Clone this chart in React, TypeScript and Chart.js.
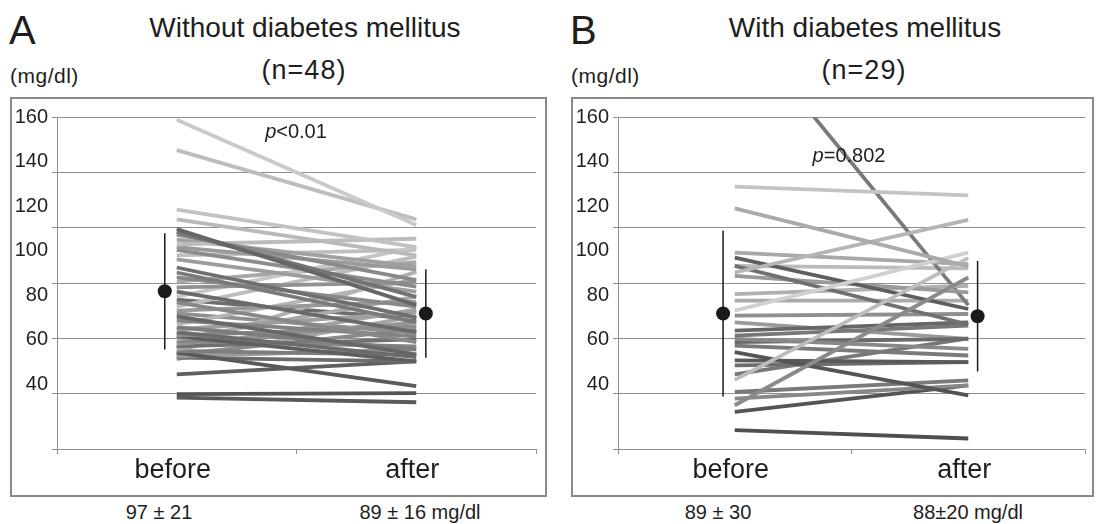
import React, { useEffect, useRef } from "react";
import { Chart, registerables } from "chart.js";

Chart.register(...registerables);

// ---------- data ----------
const CATEGORIES = ["before", "after"];
const Y_TICK_LABELS = [40, 60, 80, 100, 120, 140, 160];

// Panel A: without diabetes mellitus (n=48)
const A_BEFORE = [159, 148, 126.5, 123, 119.5, 118.5, 117.5, 114, 115.7, 113, 112, 108.5, 105.6, 103.8, 102, 98.4, 96.9, 95.1, 93, 91.5, 90, 87.9, 86.5, 85, 84, 83.2, 82.2, 81, 80.7, 79.6, 79, 78, 77.1, 76.5, 76, 75.5, 74.8, 74.2, 73.5, 73, 72.5, 67, 59.8, 58.6, 100.5, 110, 94, 89];
const A_AFTER = [121, 123, 113, 110, 92, 95, 101, 116, 106, 104.9, 98.7, 96.9, 87.6, 85.8, 91.5, 100.2, 82.2, 113, 78.6, 109.5, 93.3, 74.2, 80.7, 101.3, 76, 89.4, 73.2, 84.3, 71.7, 95.1, 77.1, 85.8, 79.6, 104, 90.5, 74, 62.7, 83.2, 76, 71.7, 88, 71.7, 60.2, 56.9, 107.5, 112, 87, 82];
const A_SHADES = ["#c9c9c9", "#bdbdbd", "#c2c2c2", "#b9b9b9", "#666666", "#737373", "#8a8a8a", "#bcbcbc", "#a0a0a0", "#9a9a9a", "#8c8c8c", "#9c9c9c", "#6f6f6f", "#7a7a7a", "#888888", "#909090", "#6a6a6a", "#c6c6c6", "#888888", "#bcbcbc", "#999999", "#666666", "#828282", "#b5b5b5", "#7c7c7c", "#9e9e9e", "#6b6b6b", "#8d8d8d", "#5e5e5e", "#aaaaaa", "#858585", "#969696", "#707070", "#b0b0b0", "#a3a3a3", "#7d7d7d", "#5a5a5a", "#8a8a8a", "#999999", "#6c6c6c", "#a5a5a5", "#5f5f5f", "#555555", "#5a5a5a", "#a8a8a8", "#bfbfbf", "#6e6e6e", "#8f8f8f"];
const A_MEAN = [97, 89];
const A_SD = [21, 16];

// Panel B: with diabetes mellitus (n=29)
const B_BEFORE = [134.8, 127, 103.8, 90, 65, 55.8, 109.2, 111, 106.2, 102.6, 96, 88.2, 82.8, 81, 79.8, 78.6, 77.4, 75, 72, 70.2, 60.6, 58.2, 53.4, 46.8, 195, 93.6, 85.8, 67, 106.2];
const B_AFTER = [131.7, 106, 122.8, 111, 109, 102, 90.6, 106.8, 85, 96.6, 99, 88.8, 85.8, 84.6, 76.2, 79.8, 73.8, 59.4, 71.4, 71.4, 64.8, 63, 63, 43.8, 92, 93.6, 79.8, 80, 105.3];
const B_SHADES = ["#c4c4c4", "#aaaaaa", "#b5b5b5", "#d0d0d0", "#bdbdbd", "#8a8a8a", "#5e5e5e", "#a8a8a8", "#707070", "#999999", "#b0b0b0", "#8f8f8f", "#666666", "#777777", "#888888", "#6a6a6a", "#7a7a7a", "#555555", "#5a5a5a", "#6e6e6e", "#7a7a7a", "#888888", "#555555", "#4f4f4f", "#7a7a7a", "#aaaaaa", "#9a9a9a", "#777777", "#bbbbbb"];
const B_MEAN = [89, 88];
const B_SD = [30, 20];

// ---------- styling ----------
const FONT = "'Liberation Sans', Arial, Helvetica, sans-serif";
const TEXT = "#1e1e1e";
const GRID = "#8f8f8f";
const LABEL_AXIS_MIN = 10.8; // label column is drawn on a compressed scale, as in the original figure
const MEAN_OFFSET = 0.05;

type PanelProps = {
  before: number[];
  after: number[];
  shades: string[];
  mean: number[];
  sd: number[];
  left: number;
  width: number;
  padRight: number;
};

function Panel({ before, after, shades, mean, sd, left, width, padRight }: PanelProps) {
  const ref = useRef<HTMLCanvasElement | null>(null);
  const top = 97;
  const height = 400;
  const cw = width - 4;
  const ch = height - 4;

  useEffect(() => {
    if (!ref.current) return;
    const lines: any[] = before.map((b, i) => ({
      type: "line",
      data: [
        { x: 0.5, y: b },
        { x: 1.5, y: after[i] },
      ],
      borderColor: shades[i],
      borderWidth: 3.8,
      pointRadius: 0,
      borderCapStyle: "butt",
      xAxisID: "x",
      yAxisID: "y",
    }));
    const meanX = [0.5 - MEAN_OFFSET, 1.5 + MEAN_OFFSET - 0.01];
    const bars: any[] = mean.map((m, i) => ({
      type: "line",
      data: [
        { x: meanX[i], y: m - sd[i] },
        { x: meanX[i], y: m + sd[i] },
      ],
      borderColor: "#1a1a1a",
      borderWidth: 1.5,
      pointRadius: 0,
      xAxisID: "x",
      yAxisID: "y",
    }));
    const dots: any = {
      type: "scatter",
      data: mean.map((m, i) => ({ x: meanX[i], y: m })),
      backgroundColor: "#1a1a1a",
      borderWidth: 0,
      pointRadius: 7,
      xAxisID: "x",
      yAxisID: "y",
    };
    const chart = new Chart(ref.current, {
      type: "line",
      data: { datasets: [...lines, ...bars, dots] },
      options: {
        responsive: false,
        animation: false,
        events: [],
        layout: { padding: { top: 18, right: padRight, left: 0, bottom: 0 } },
        plugins: { legend: { display: false }, tooltip: { enabled: false } },
        scales: {
          x: {
            type: "linear",
            position: "bottom",
            min: 0,
            max: 2,
            ticks: { display: false, stepSize: 1 },
            grid: { drawOnChartArea: false, drawTicks: true, tickLength: 5, color: GRID },
            border: { color: GRID, width: 1 },
            afterFit: (s: any) => {
              s.height = 5;
            },
          },
          xc: {
            type: "category",
            axis: "x",
            position: "bottom",
            labels: CATEGORIES,
            offset: true,
            grid: { display: false, drawTicks: false },
            border: { display: false },
            ticks: { color: TEXT, font: { family: FONT, size: 27 }, padding: 0, labelOffset: -4 },
            afterFit: (s: any) => {
              s.height = 41;
            },
          },
          y: {
            type: "linear",
            position: "left",
            min: 40,
            max: 160,
            ticks: { display: false, stepSize: 20 },
            grid: { color: GRID, tickLength: 5, lineWidth: 1 },
            border: { color: GRID, width: 1 },
            afterFit: (s: any) => {
              s.width = 5;
            },
          },
          yl: {
            type: "linear",
            axis: "y",
            position: "left",
            min: LABEL_AXIS_MIN,
            max: 160,
            afterBuildTicks: (s: any) => {
              s.ticks = Y_TICK_LABELS.map((v) => ({ value: v }));
            },
            grid: { display: false, drawTicks: false },
            border: { display: false },
            ticks: { color: TEXT, font: { family: FONT, size: 20 }, padding: 4 },
            afterFit: (s: any) => {
              s.width = 40;
            },
          },
        },
      } as any,
    });
    return () => chart.destroy();
  }, []);

  return (
    <>
      <div
        style={{
          position: "absolute",
          left,
          top,
          width,
          height,
          boxSizing: "border-box",
          border: "2px solid #8a8a8a",
        }}
      />
      <canvas
        ref={ref}
        width={cw}
        height={ch}
        style={{ position: "absolute", left: left + 2, top: top + 2, width: cw, height: ch }}
      />
    </>
  );
}

function T({ x, y, size, children, align = "center", spacing = 0 }: any) {
  return (
    <div
      style={{
        position: "absolute",
        left: x,
        top: y,
        transform: align === "center" ? "translate(-50%, -50%)" : "translate(0, -50%)",
        whiteSpace: "nowrap",
        fontSize: size,
        fontFamily: FONT,
        color: TEXT,
        lineHeight: 1,
        letterSpacing: spacing,
      }}
    >
      {children}
    </div>
  );
}

export default function App() {
  return (
    <div style={{ position: "absolute", left: 0, top: 0, width: 1097, height: 524, background: "#fff", overflow: "hidden" }}>
      {/* Panel A */}
      <T x={9} y={30} size={40} align="left">A</T>
      <T x={305} y={28} size={28}>Without diabetes mellitus</T>
      <T x={304} y={70} size={27} spacing={1}>(n=48)</T>
      <T x={10} y={75} size={21} align="left" spacing={0.5}>(mg/dl)</T>
      <Panel before={A_BEFORE} after={A_AFTER} shades={A_SHADES} mean={A_MEAN} sd={A_SD} left={10} width={537} padRight={9} />
      <T x={296} y={131} size={20}>
        <span style={{ fontStyle: "italic" }}>p</span>&lt;0.01
      </T>
      <T x={159} y={512} size={20}>97 ± 21</T>
      <T x={420} y={512} size={20}>89 ± 16 mg/dl</T>

      {/* Panel B */}
      <T x={570} y={30} size={40} align="left">B</T>
      <T x={865} y={28} size={28}>With diabetes mellitus</T>
      <T x={864} y={70} size={27} spacing={1}>(n=29)</T>
      <T x={571} y={75} size={21} align="left" spacing={0.5}>(mg/dl)</T>
      <Panel before={B_BEFORE} after={B_AFTER} shades={B_SHADES} mean={B_MEAN} sd={B_SD} left={571} width={523} padRight={0} />
      <T x={849} y={155} size={20}>
        <span style={{ fontStyle: "italic" }}>p</span>=0.802
      </T>
      <T x={718} y={512} size={20}>89 ± 30</T>
      <T x={968} y={512} size={20}>88±20 mg/dl</T>
    </div>
  );
}
